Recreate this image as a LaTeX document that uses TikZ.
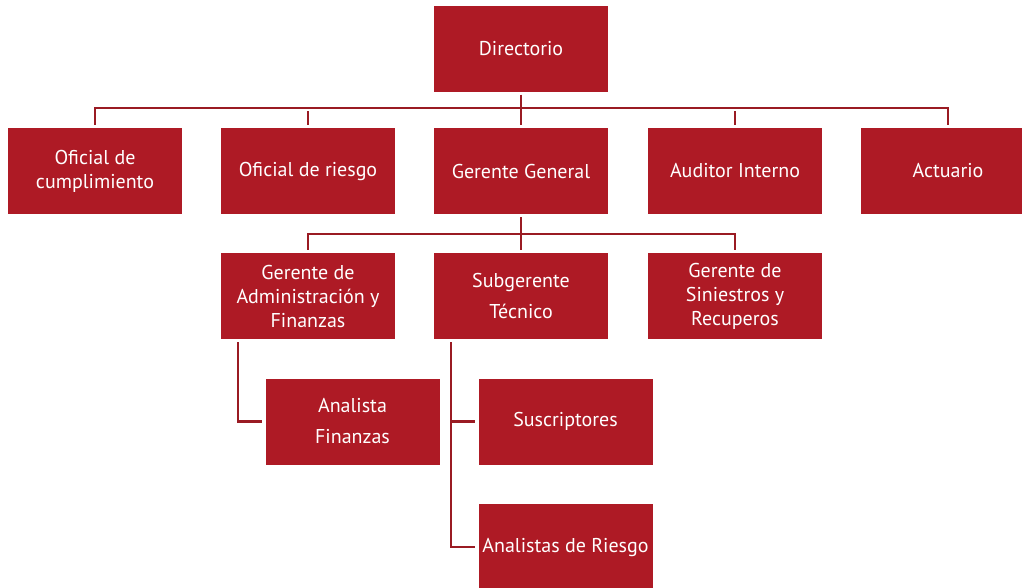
\documentclass[tikz,border=0pt]{standalone}
\usepackage{fontspec}
\setmainfont{PT Sans}
\definecolor{caja}{HTML}{AE1A25}
\definecolor{linea}{HTML}{9A1B23}

\begin{document}
\begin{tikzpicture}[x=1pt, y=-1pt, every node/.style={rectangle, fill=caja, text=white, minimum width=174pt, minimum height=86pt, align=center, inner sep=0pt, font=\fontsize{20}{24}\selectfont}, conector/.style={draw=linea, line width=2.6pt, shorten <=3pt, shorten >=3pt}]
                \useasboundingbox (0,0) rectangle (1022,587);
                \node (dir) at (521,48.5) {Directorio};
                \node (ofc) at (95,171) {Oficial de\\cumplimiento};
                \node (ofr) at (308,171) {Oficial de riesgo};
                \node (gg) at (521,171) {Gerente General};
                \node (aud) at (735,171) {Auditor Interno};
                \node (act) at (948,171) {Actuario};
                \node (gaf) at (308,296) {Gerente de\\Administración y\\Finanzas};
                \node (sgt) at (521,296) {Subgerente\\[7pt]Técnico};
                \node (gsr) at (735,296) {Gerente de\\Siniestros y\\Recuperos};
                \node (af) at (352.5,421.5) {Analista\\[7pt]Finanzas};
                \node (sus) at (565.5,421.5) {Suscriptores};
                \node (ar) at (565.5,547) {Analistas de Riesgo};
                \draw[conector] (dir) -- (gg);
                \draw[conector] (ofc.north) -- ++(0,-20) -| (act.north);
                \draw[conector] (ofr.north) -- ++(0,-20);
                \draw[conector] (aud.north) -- ++(0,-20);
                \draw[conector] (gg) -- (sgt);
                \draw[conector] (gaf.north) -- ++(0,-19) -| (gsr.north);
                \draw[conector] ([xshift=-70pt]gaf.south) |- (af.west);
                \draw[conector] ([xshift=-70pt]sgt.south) |- (sus.west);
                \draw[conector] ([xshift=-70pt]sgt.south) |- (ar.west);
                \end{tikzpicture}
\end{document}
